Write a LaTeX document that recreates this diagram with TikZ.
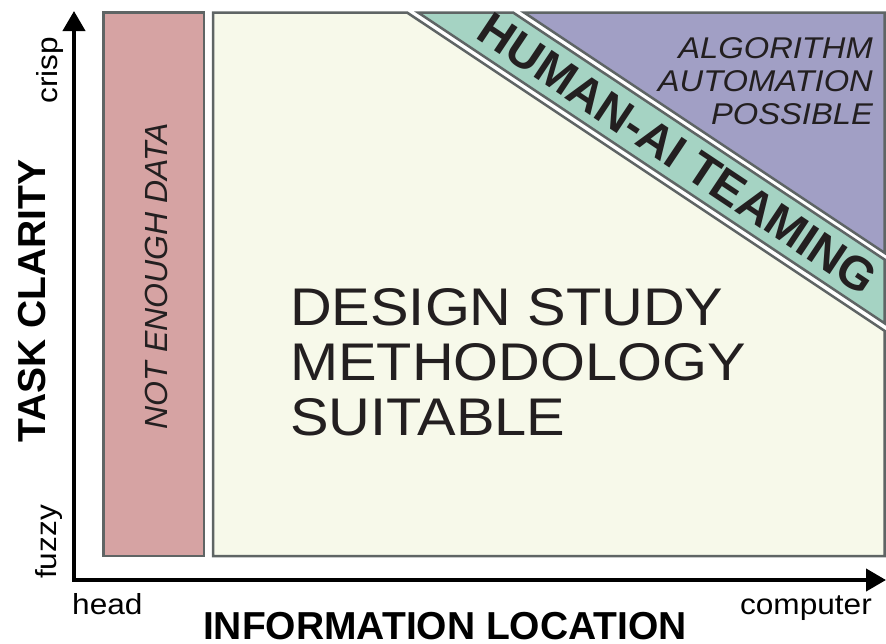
\documentclass[tikz,border=0pt]{standalone}
\usepackage{fontspec}
\setmainfont{Liberation Sans}
\newfontfamily\wreg[FakeStretch=1.09]{Liberation Sans}
\usetikzlibrary{arrows.meta}
\definecolor{edgegray}{HTML}{5F6565}
\definecolor{redfill}{HTML}{D6A3A3}
\definecolor{yelfill}{HTML}{F7F9EA}
\definecolor{grnfill}{HTML}{A5D3C3}
\definecolor{purfill}{HTML}{A19FC5}
\definecolor{ink}{HTML}{231F20}
\begin{document}
\begin{tikzpicture}[x=1pt,y=-1pt,
  >={Triangle[length=20pt,width=22pt]},
  region/.style={draw=edgegray, line width=2.5pt},
  axislabel/.style={inner sep=0pt, font=\wreg\fontsize{29}{31}\selectfont},
  axistitle/.style={inner sep=0pt, font=\bfseries\fontsize{39}{40}\selectfont},
  bigtxt/.style={inner sep=0pt, text=ink, font=\wreg\fontsize{53}{55}\selectfont},
  algtxt/.style={inner sep=0pt, text=ink, font=\wreg\itshape\fontsize{30}{32}\selectfont}]
\useasboundingbox (0,0) rectangle (886,643);
% regions
\coordinate (r1) at (103.5,12.5); \coordinate (r2) at (204,556);
\draw[region, fill=redfill] (r1) rectangle (r2);
\coordinate (y1) at (213,12.5); \coordinate (y2) at (407,12.5);
\coordinate (y3) at (884.5,330.8); \coordinate (y4) at (884.5,556);
\coordinate (y5) at (213,556);
\draw[region, fill=yelfill] (y1) -- (y2) -- (y3) -- (y4) -- (y5) -- cycle;
\coordinate (g1) at (418,12.5); \coordinate (g2) at (513,12.5);
\coordinate (g3) at (884.5,259.5); \coordinate (g4) at (884.5,323.2);
\draw[region, fill=grnfill] (g1) -- (g2) -- (g3) -- (g4) -- cycle;
\coordinate (p1) at (524,12.5); \coordinate (p2) at (884.5,12.5);
\coordinate (p3) at (884.5,252.8);
\draw[region, fill=purfill] (p1) -- (p2) -- (p3) -- cycle;
% axes
\coordinate (ytip) at (74,11); \coordinate (corner) at (74,580); \coordinate (xtip) at (886,580);
\draw[line width=4pt, line join=miter, <->] (ytip) -- (corner) -- (xtip);
% texts
\node[axislabel, rotate=90, anchor=base] (crisp) at (57,70) {crisp};
\node[axislabel, rotate=90, anchor=base] (fuzzy) at (56,542) {fuzzy};
\node[axislabel, anchor=base west] (head) at (72,614) {head};
\node[axislabel, anchor=base east] (computer) at (872,614) {computer};
\node[axistitle, anchor=base] (xtitle) at (445,639) {INFORMATION LOCATION};
\node[axistitle, rotate=90, anchor=base] (ytitle) at (45,301) {TASK CLARITY};
\node[inner sep=0pt, text=ink, rotate=90, anchor=base, font=\itshape\fontsize{32}{34}\selectfont] (ned) at (167,276) {NOT ENOUGH DATA};
\node[bigtxt, anchor=base west] (ds1) at (290,325) {DESIGN STUDY};
\node[bigtxt, anchor=base west] (ds2) at (290,380) {METHODOLOGY};
\node[bigtxt, anchor=base west] (ds3) at (290,435) {SUITABLE};
\node[algtxt, anchor=base east] (al1) at (873,58) {ALGORITHM};
\node[algtxt, anchor=base east] (al2) at (873,91) {AUTOMATION};
\node[algtxt, anchor=base east] (al3) at (873,124) {POSSIBLE};
\node[inner sep=0pt, text=ink, rotate=-33.69, font=\bfseries\fontsize{47}{49}\selectfont] (hai) at (678,154) {HUMAN-AI TEAMING};
\end{tikzpicture}
\end{document}
